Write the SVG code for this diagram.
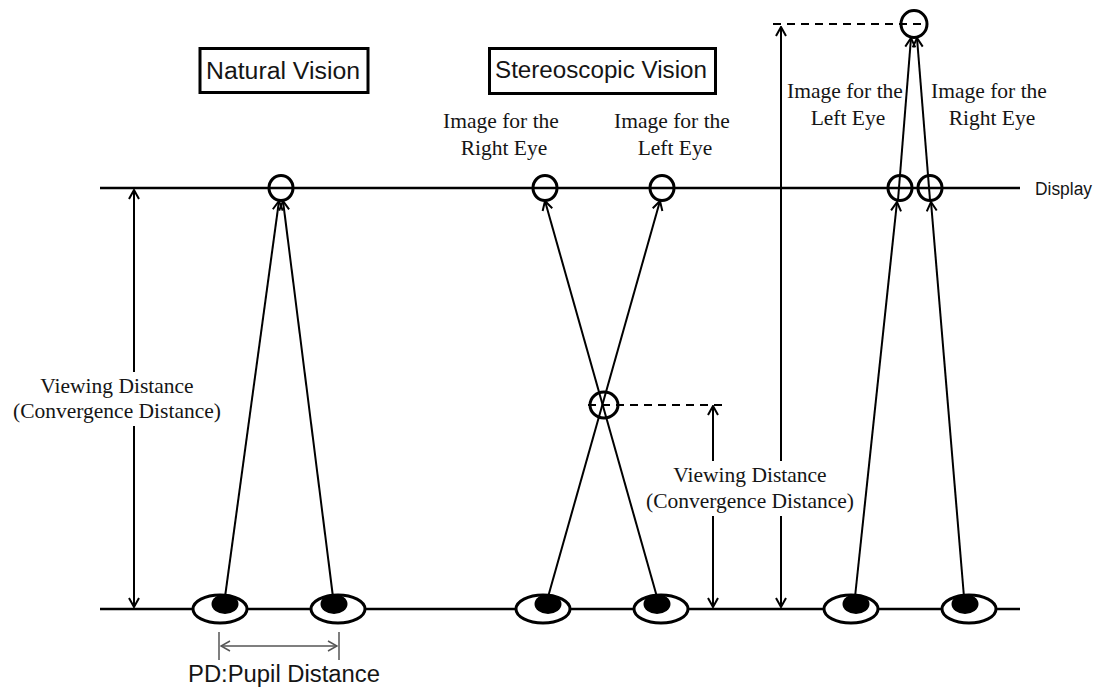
<svg xmlns="http://www.w3.org/2000/svg" xmlns:xlink="http://www.w3.org/1999/xlink" width="1101" height="689" viewBox="0 0 1101 689">
<style>
.serif{font-family:"Liberation Serif","Times New Roman",serif;font-size:21.5px;fill:#151515;text-anchor:middle}
.sans{font-family:"Liberation Sans",Arial,sans-serif;fill:#151515}
.ln{stroke:#000;stroke-width:2.5;fill:none}
.ray{stroke:#000;stroke-width:2;fill:none;marker-end:url(#ah)}
.dim{stroke:#000;stroke-width:2;fill:none;marker-start:url(#ah);marker-end:url(#ah)}
.dash{stroke:#000;stroke-width:2;fill:none;stroke-dasharray:8 6}
.ring{fill:none;stroke:#000;stroke-width:3}
.box{fill:#fff;stroke:#000;stroke-width:3}
.bg{fill:#fff}
</style>
<defs>
<marker id="ah" viewBox="-11 -6 12 12" refX="0" refY="0" markerWidth="12" markerHeight="12" markerUnits="userSpaceOnUse" orient="auto-start-reverse">
<path d="M-9,-5 L0,0 L-9,5" fill="none" stroke="#000" stroke-width="2"/>
</marker>
<marker id="ahg" viewBox="-11 -6 12 12" refX="0" refY="0" markerWidth="12" markerHeight="12" markerUnits="userSpaceOnUse" orient="auto-start-reverse">
<path d="M-9,-5 L0,0 L-9,5" fill="none" stroke="#555" stroke-width="1.5"/>
</marker>
<g id="eyeL">
<ellipse cx="0" cy="0" rx="27" ry="14" fill="#fff"/>
<ellipse cx="5" cy="-5" rx="13.5" ry="10" fill="#000"/>
<ellipse cx="0" cy="0" rx="27" ry="14" fill="none" stroke="#000" stroke-width="3"/>
</g>
<g id="eyeR">
<ellipse cx="0" cy="0" rx="27" ry="14" fill="#fff"/>
<ellipse cx="-4" cy="-5" rx="13.5" ry="10" fill="#000"/>
<ellipse cx="0" cy="0" rx="27" ry="14" fill="none" stroke="#000" stroke-width="3"/>
</g>
</defs>
<rect width="1101" height="689" fill="#fff"/>

<g id="baselines">
<line class="ln" x1="100" y1="188" x2="1020" y2="188"/>
<line class="ln" x1="100" y1="609" x2="1020" y2="609"/>
</g>

<g id="connectors">
<path class="ray" d="M225,597 L279,201"/>
<path class="ray" d="M333,597 L283,201"/>
<path class="ray" d="M548,597 L660,201"/>
<path class="ray" d="M657,597 L545,201"/>
<path class="ray" d="M855,597 L897,202"/>
<path class="ray" d="M898,200 L911,38"/>
<path class="ray" d="M964,597 L931,202"/>
<path class="ray" d="M930,200 L917,38"/>
<path class="dim" d="M134,190 L134,607"/>
<path class="dim" d="M713,406 L713,607"/>
<path class="dim" d="M781,27 L781,607"/>
<path class="dash" d="M588,405 L722,405"/>
<path class="dash" d="M773,24 L926,24"/>
<line x1="219" y1="632" x2="219" y2="660" stroke="#555" stroke-width="1.5"/>
<line x1="339" y1="632" x2="339" y2="660" stroke="#555" stroke-width="1.5"/>
<path d="M221,646 L337,646" stroke="#555" stroke-width="1.5" fill="none" marker-start="url(#ahg)" marker-end="url(#ahg)"/>
</g>

<g id="points">
<ellipse class="ring" cx="281" cy="188" rx="12" ry="12.5"/>
<ellipse class="ring" cx="545" cy="188" rx="12" ry="12.5"/>
<ellipse class="ring" cx="662" cy="188" rx="12" ry="12.5"/>
<ellipse class="ring" cx="604" cy="405" rx="14" ry="13"/>
<ellipse class="ring" cx="900" cy="188" rx="12" ry="12.5"/>
<ellipse class="ring" cx="930" cy="188" rx="12" ry="12.5"/>
<ellipse class="ring" cx="914" cy="24" rx="13" ry="13.5"/>
</g>

<g id="eyes">
<use xlink:href="#eyeL" x="220" y="609"/>
<use xlink:href="#eyeR" x="338" y="609"/>
<use xlink:href="#eyeL" x="543" y="609"/>
<use xlink:href="#eyeR" x="661" y="609"/>
<use xlink:href="#eyeL" x="851" y="609"/>
<use xlink:href="#eyeR" x="969" y="609"/>
</g>

<g id="title-natural">
<rect class="box" x="200" y="48.5" width="168" height="44"/>
<text class="sans" x="283" y="79" font-size="23" text-anchor="middle" textLength="154" lengthAdjust="spacingAndGlyphs">Natural Vision</text>
</g>
<g id="title-stereo">
<rect class="box" x="489.5" y="48.5" width="226" height="45"/>
<text class="sans" x="601" y="78" font-size="23" text-anchor="middle" textLength="212" lengthAdjust="spacingAndGlyphs">Stereoscopic Vision</text>
</g>

<g id="label-display">
<text class="sans" x="1035" y="195" font-size="18" textLength="57" lengthAdjust="spacingAndGlyphs">Display</text>
</g>
<g id="label-pd">
<text class="sans" x="284" y="682" font-size="23" text-anchor="middle" textLength="192" lengthAdjust="spacingAndGlyphs">PD:Pupil Distance</text>
</g>

<g id="label-vd-left">
<rect class="bg" x="10" y="372" width="218" height="54"/>
<text class="serif" x="117" y="393">Viewing Distance</text>
<text class="serif" x="117" y="418">(Convergence Distance)</text>
</g>
<g id="label-vd-mid">
<rect class="bg" x="640" y="461" width="222" height="55"/>
<text class="serif" x="750" y="482">Viewing Distance</text>
<text class="serif" x="750" y="508">(Convergence Distance)</text>
</g>
<g id="label-stereo-right">
<text class="serif" x="501" y="128">Image for the</text>
<text class="serif" x="504" y="155">Right Eye</text>
</g>
<g id="label-stereo-left">
<text class="serif" x="672" y="128">Image for the</text>
<text class="serif" x="675" y="155">Left Eye</text>
</g>
<g id="label-far-left">
<text class="serif" x="845" y="98">Image for the</text>
<text class="serif" x="848" y="125">Left Eye</text>
</g>
<g id="label-far-right">
<text class="serif" x="989" y="98">Image for the</text>
<text class="serif" x="992" y="125">Right Eye</text>
</g>
</svg>
